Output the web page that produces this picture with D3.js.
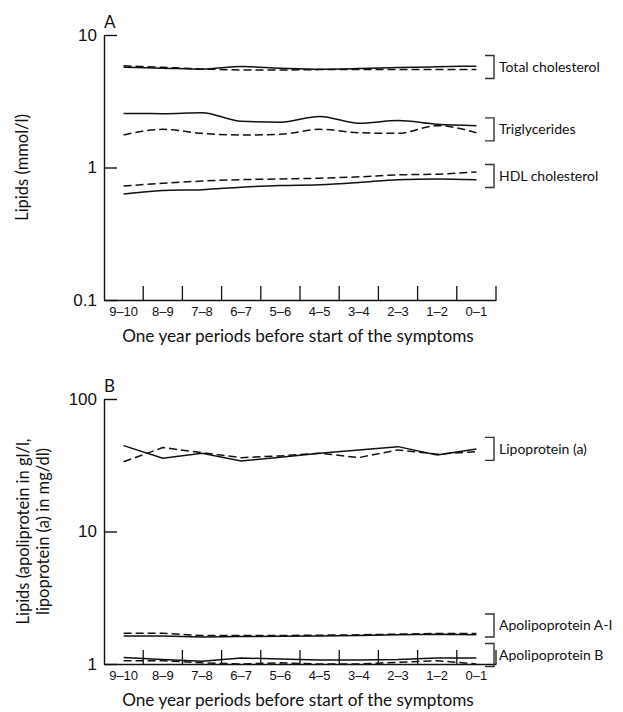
<!DOCTYPE html>
<html>
<head>
<meta charset="utf-8">
<script src="https://cdn.jsdelivr.net/npm/d3@7"></script>
<style>
  body { margin: 0; background: #fff; }
  svg { font-family: Lato, "Open Sans", sans-serif; }
</style>
</head>
<body>
<svg id="chart" width="623" height="712"></svg>
<script>
// one year periods before start of the symptoms
const periods = ["9–10", "8–9", "7–8", "6–7", "5–6", "4–5", "3–4", "2–3", "1–2", "0–1"];

// panel A (mmol/l) - solid and dashed groups
const totalCholSolid  = [5.70, 5.62, 5.52, 5.78, 5.62, 5.52, 5.58, 5.68, 5.76, 5.82];
const totalCholDashed = [5.85, 5.70, 5.55, 5.45, 5.45, 5.48, 5.50, 5.50, 5.50, 5.50];
const trigSolid  = [2.56, 2.55, 2.59, 2.23, 2.20, 2.43, 2.16, 2.26, 2.12, 2.07];
const trigDashed = [1.76, 1.94, 1.81, 1.76, 1.78, 1.94, 1.83, 1.81, 2.07, 1.83];
const hdlSolid  = [0.63, 0.67, 0.68, 0.71, 0.73, 0.74, 0.77, 0.81, 0.82, 0.81];
const hdlDashed = [0.725, 0.76, 0.79, 0.81, 0.82, 0.83, 0.85, 0.88, 0.89, 0.925];

// panel B (apolipoproteins g/l, lipoprotein (a) mg/dl)
const lpaSolid  = [44.5, 35.7, 39.0, 34.1, 36.4, 39.0, 41.3, 43.7, 37.8, 42.0];
const lpaDashed = [33.6, 43.0, 39.4, 36.1, 37.2, 39.0, 36.1, 41.3, 38.3, 40.1];
const apoASolid  = [1.63, 1.63, 1.60, 1.61, 1.62, 1.63, 1.64, 1.66, 1.68, 1.66];
const apoADashed = [1.71, 1.71, 1.64, 1.64, 1.64, 1.65, 1.66, 1.68, 1.70, 1.70];
const apoBSolid  = [1.12, 1.08, 1.05, 1.11, 1.09, 1.07, 1.07, 1.08, 1.11, 1.11];
const apoBDashed = [1.06, 1.06, 1.02, 1.00, 1.02, 1.00, 1.00, 1.03, 1.06, 1.00];

// labels and the value each bracket is centred on
const labelsA = ["Total cholesterol", "Triglycerides", "HDL cholesterol"];
const labelAtA = [5.73, 1.94, 0.863];
const labelsB = ["Lipoprotein (a)", "Apolipoprotein A-I", "Apolipoprotein B"];
const labelAtB = [42.0, 1.95, 1.17];

const ticksA = [0.1, 1, 10];
const ticksB = [1, 10, 100];

const svg = d3.select("#chart");
const x = d3.scaleBand().domain(periods).range([104, 496]);

function drawPanel(p) {
  const y = d3.scaleLog().domain(p.domain).range([p.bottom, p.top]);
  const g = svg.append("g");

  // y axis, ticks pointing inwards
  g.append("g")
    .attr("transform", "translate(104,0)")
    .call(d3.axisLeft(y).tickValues(p.ticks).tickSize(-13).tickSizeOuter(0)
      .tickPadding(7).tickFormat(d3.format("~g")))
    .call((a) => a.selectAll("line, path").attr("stroke", "#111").attr("stroke-width", 1.4))
    .call((a) => a.selectAll("text").attr("font-size", 17).attr("fill", "#111"));

  // x axis, labels centred in bands
  g.append("g")
    .attr("transform", `translate(0,${p.bottom})`)
    .call(d3.axisBottom(x).tickSize(0).tickSizeOuter(0).tickPadding(7))
    .call((a) => a.select("path").attr("stroke", "#111").attr("stroke-width", 1.4))
    .call((a) => a.selectAll("text").attr("font-size", 13).attr("fill", "#111"));

  // tick marks at the band edges, pointing up
  g.selectAll(".bandtick")
    .data(periods)
    .join("line")
    .attr("x1", (d) => x(d) + x.bandwidth())
    .attr("x2", (d) => x(d) + x.bandwidth())
    .attr("y1", p.bottom)
    .attr("y2", p.bottom - 14)
    .attr("stroke", "#111")
    .attr("stroke-width", 1.3);

  // series
  const line = d3.line()
    .x((d, i) => x(periods[i]) + x.bandwidth() / 2)
    .y((d) => y(d))
    .curve(p.curve);

  g.selectAll(".series")
    .data(p.series)
    .join("path")
    .attr("d", (d) => line(d.values))
    .attr("fill", "none")
    .attr("stroke", "#111")
    .attr("stroke-width", 1.5)
    .attr("stroke-dasharray", (d) => (d.dashed ? "8,4" : null));

  // bracket labels
  const lab = g.selectAll(".lab")
    .data(p.labels.map((name, i) => ({ name, at: p.labelAt[i] })))
    .join("g")
    .attr("transform", (d) => `translate(485,${y(d.at)})`);
  lab.append("path")
    .attr("d", "M0,-11.5H9V11.5H0")
    .attr("fill", "none")
    .attr("stroke", "#333")
    .attr("stroke-width", 1.4);
  lab.append("text")
    .attr("x", 14)
    .attr("dy", "0.35em")
    .attr("font-size", 14)
    .attr("fill", "#111")
    .text((d) => d.name);

  // panel letter
  g.append("text")
    .attr("x", 104)
    .attr("y", p.top - 7)
    .attr("font-size", 17)
    .attr("fill", "#111")
    .text(p.letter);

  // axis titles
  g.append("text")
    .attr("x", 298)
    .attr("y", p.bottom + 42)
    .attr("text-anchor", "middle")
    .attr("font-size", 17.2)
    .attr("fill", "#111")
    .text("One year periods before start of the symptoms");

  const yt = g.append("text")
    .attr("transform", `translate(0,${(p.top + p.bottom) / 2}) rotate(-90)`)
    .attr("text-anchor", "middle")
    .attr("font-size", 16.5)
    .attr("fill", "#111");
  yt.selectAll("tspan")
    .data(p.yTitle)
    .join("tspan")
    .attr("x", 0)
    .attr("y", (d, i) => p.yTitleX + i * 20)
    .text((d) => d);
}

drawPanel({
  letter: "A",
  domain: [0.1, 10],
  ticks: ticksA,
  top: 35,
  bottom: 300,
  curve: d3.curveMonotoneX,
  yTitle: ["Lipids (mmol/l)"],
  yTitleX: 28,
  labels: labelsA,
  labelAt: labelAtA,
  series: [
    { values: totalCholSolid, dashed: false },
    { values: totalCholDashed, dashed: true },
    { values: trigSolid, dashed: false },
    { values: trigDashed, dashed: true },
    { values: hdlSolid, dashed: false },
    { values: hdlDashed, dashed: true }
  ]
});

drawPanel({
  letter: "B",
  domain: [1, 100],
  ticks: ticksB,
  top: 399,
  bottom: 664,
  curve: d3.curveLinear,
  yTitle: ["Lipids (apoliprotein in gl/l,", "lipoprotein (a) in mg/dl)"],
  yTitleX: 29,
  labels: labelsB,
  labelAt: labelAtB,
  series: [
    { values: lpaSolid, dashed: false },
    { values: lpaDashed, dashed: true },
    { values: apoASolid, dashed: false },
    { values: apoADashed, dashed: true },
    { values: apoBSolid, dashed: false },
    { values: apoBDashed, dashed: true }
  ]
});
</script>
</body>
</html>
